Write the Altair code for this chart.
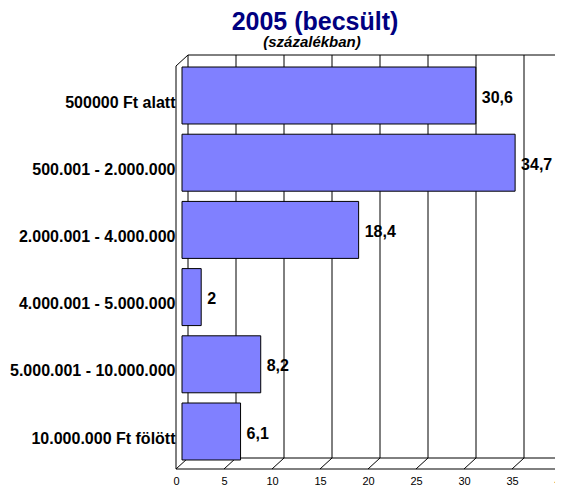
import altair as alt
import pandas as pd

# ---- data ----
categories = [
    "500000 Ft alatt",
    "500.001 - 2.000.000",
    "2.000.001 - 4.000.000",
    "4.000.001 - 5.000.000",
    "5.000.001 - 10.000.000",
    "10.000.000 Ft fölött",
]
values = [30.6, 34.7, 18.4, 2, 8.2, 6.1]
ticks = [0, 5, 10, 15, 20, 25, 30, 35, 40]
title_text = "2005 (becsült)"
subtitle_text = "(százalékban)"

FONT = "Liberation Sans, Arial, Helvetica, sans-serif"
BAR_COLOR = "#8080FF"
VIEW_W = 379

df = pd.DataFrame({"cat": categories, "v": values})
tick_df = pd.DataFrame({"t": ticks})
one = pd.DataFrame({"k": [0]})

xscale = alt.Scale(domain=[0, 40], range=[6, 390], nice=False, zero=True)
yscale = alt.Scale(domain=categories, range=[6.9, 410.1],
                   paddingInner=0.152, paddingOuter=0.076)

xaxis = alt.Axis(values=ticks, format="d", orient="bottom", domain=False, ticks=False,
                 grid=False, labelPadding=6, labelOffset=-6, labelFontSize=11,
                 labelFont=FONT, labelColor="black", labelFlush=False,
                 labelOverlap=False, labelBound=False, title=None)
yaxis = alt.Axis(orient="left", domain=False, ticks=False, grid=False,
                 labelPadding=1, labelOffset=7, labelFontSize=16,
                 labelFontWeight="bold", labelFont=FONT, labelColor="black",
                 labelLimit=400, title=None)

# back-wall gridlines
grid = alt.Chart(tick_df).mark_rule(color="black", strokeWidth=1, xOffset=6).encode(
    x=alt.X("t:Q", scale=xscale, axis=xaxis),
    y=alt.value(0), y2=alt.value(403),
)
# floor diagonals
diag = alt.Chart(tick_df).mark_rule(color="black", strokeWidth=1,
                                    xOffset=-6, x2Offset=6).encode(
    x=alt.X("t:Q", scale=xscale, axis=xaxis), x2="t:Q",
    y=alt.value(414), y2=alt.value(403),
)

def seg(**enc):
    return alt.Chart(one).mark_rule(color="black", strokeWidth=1).encode(**enc)

back_floor = seg(x=alt.value(12), x2=alt.value(VIEW_W), y=alt.value(403))
front_floor = seg(x=alt.value(0), x2=alt.value(VIEW_W), y=alt.value(414))
back_top = seg(x=alt.value(12), x2=alt.value(VIEW_W), y=alt.value(0))
left_wall = seg(x=alt.value(0), y=alt.value(11), y2=alt.value(414))
corner = seg(x=alt.value(0), y=alt.value(11), x2=alt.value(12), y2=alt.value(0))

bars = alt.Chart(df).mark_bar(color=BAR_COLOR, stroke="black", strokeWidth=1).encode(
    x=alt.X("v:Q", scale=xscale, axis=xaxis),
    y=alt.Y("cat:N", scale=yscale, sort=categories, axis=yaxis),
)

labels = alt.Chart(df).transform_calculate(
    lbl="replace(toString(datum.v), '.', ',')"
).mark_text(align="left", baseline="middle", dx=6, dy=2, fontSize=16,
            fontWeight="bold", font=FONT, color="black").encode(
    x=alt.X("v:Q", scale=xscale, axis=xaxis),
    y=alt.Y("cat:N", scale=yscale, sort=categories, axis=yaxis),
    text="lbl:N",
)

title = alt.Chart(pd.DataFrame({"t": [title_text]})).mark_text(
    font=FONT, fontSize=25, fontWeight="bold", color="#000080",
    align="center", baseline="alphabetic").encode(
    x=alt.value(139), y=alt.value(-25), text="t:N")

subtitle = alt.Chart(pd.DataFrame({"t": [subtitle_text]})).mark_text(
    font=FONT, fontSize=15, fontWeight="bold", fontStyle="italic", color="black",
    align="center", baseline="alphabetic").encode(
    x=alt.value(136), y=alt.value(-8), text="t:N")

chart = alt.layer(
    grid, diag, back_floor, front_floor, back_top, left_wall, corner,
    bars, labels, title, subtitle,
).properties(
    width=VIEW_W, height=414,
    padding={"left": 168, "top": 47, "right": 0, "bottom": 17},
    autosize=alt.AutoSizeParams(type="none"),
    background="white",
).configure_view(stroke=None)

chart.save("out.html", embed_options={"renderer": "svg", "actions": False})
